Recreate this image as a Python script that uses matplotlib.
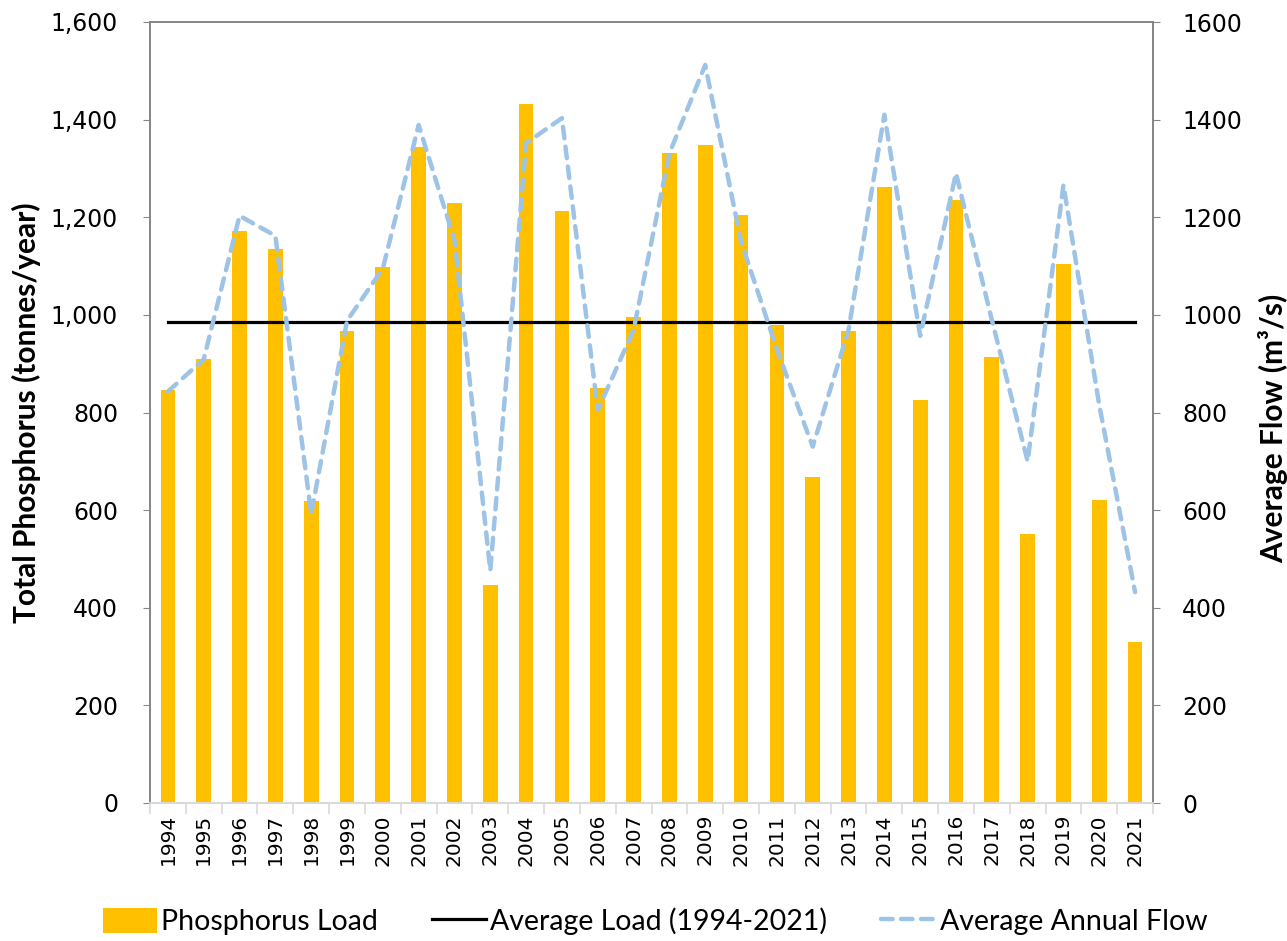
import numpy as np
import matplotlib.pyplot as plt
from matplotlib.ticker import FuncFormatter, FixedLocator

years = list(range(1994, 2022))
phosphorus_load = [846, 910, 1171, 1135, 619, 967, 1098, 1344, 1229, 446,
                   1432, 1212, 850, 996, 1331, 1348, 1205, 980, 668, 966,
                   1262, 826, 1235, 914, 552, 1104, 620, 329]
annual_flow = [843, 909, 1203, 1162, 592, 988, 1095, 1389, 1153, 476,
               1352, 1403, 805, 969, 1331, 1512, 1150, 930, 730, 969,
               1410, 957, 1290, 990, 700, 1266, 815, 432]
avg_load = sum(phosphorus_load) / len(phosphorus_load)

fig = plt.figure(figsize=(12.87, 9.41), dpi=100)
ax = fig.add_axes([150 / 1287, 1 - 803 / 941, 1003 / 1287, 781 / 941])
ax2 = ax.twinx()

x = np.arange(len(years))
bars = ax.bar(x, phosphorus_load, width=0.41, color='#FFC000', zorder=2,
              label='Phosphorus Load')
avg_line, = ax.plot(x, [avg_load] * len(x), color='black', lw=2.3, zorder=3,
                    label='Average Load (1994-2021)')
flow_line, = ax2.plot(x, annual_flow, color='#9DC3E6', lw=3.2,
                      dashes=(2.6, 1.9), dash_capstyle='round',
                      label='Average Annual Flow')

ax.set_xlim(-0.5, len(years) - 0.5)
ax.set_ylim(0, 1600)
ax2.set_ylim(0, 1600)
ax.set_yticks(range(0, 1601, 200))
ax2.set_yticks(range(0, 1601, 200))
ax.yaxis.set_major_formatter(FuncFormatter(lambda v, p: f'{int(v):,}'))

ax.set_xticks(x)
ax.set_xticklabels([str(y) for y in years], rotation=90, fontsize=14.5,
                   family='DejaVu Sans')
ax.xaxis.set_minor_locator(FixedLocator(np.arange(-0.5, len(years), 1)))
ax.tick_params(axis='x', which='major', length=0, pad=8)
ax.tick_params(axis='x', which='minor', length=8, color='#D9D9D9', width=1.2)

ax.tick_params(axis='y', labelsize=17, length=5, color='#868686', pad=18)
ax2.tick_params(axis='y', labelsize=17, length=5, color='#868686', pad=16)
for lab in ax.get_yticklabels() + ax2.get_yticklabels():
    lab.set_family('DejaVu Sans')

for a in (ax, ax2):
    for s in ['left', 'right', 'top']:
        a.spines[s].set_color('#868686')
        a.spines[s].set_linewidth(1.3)
    a.spines['bottom'].set_color('#D9D9D9')
    a.spines['bottom'].set_linewidth(1.3)

ax.set_ylabel('Total Phosphorus (tonnes/year)', fontsize=21.5,
              fontweight='bold', family='Lato')
ax2.set_ylabel('Average Flow (m³/s)', fontsize=21.5, fontweight='bold',
               family='Lato', rotation=90)
ax.yaxis.set_label_coords((41 - 150) / 1003, 0.5)
ax2.yaxis.set_label_coords((1258 - 150) / 1003, 0.48)

fig.legend(handles=[bars, avg_line, flow_line], loc='center',
           bbox_to_anchor=(0.509, 0.021), ncol=3, frameon=False,
           prop={'family': 'Lato', 'size': 20.5}, handlelength=1.9,
           handleheight=1.0, columnspacing=1.9, handletextpad=0.15)

fig.savefig('out.png', dpi=100)
